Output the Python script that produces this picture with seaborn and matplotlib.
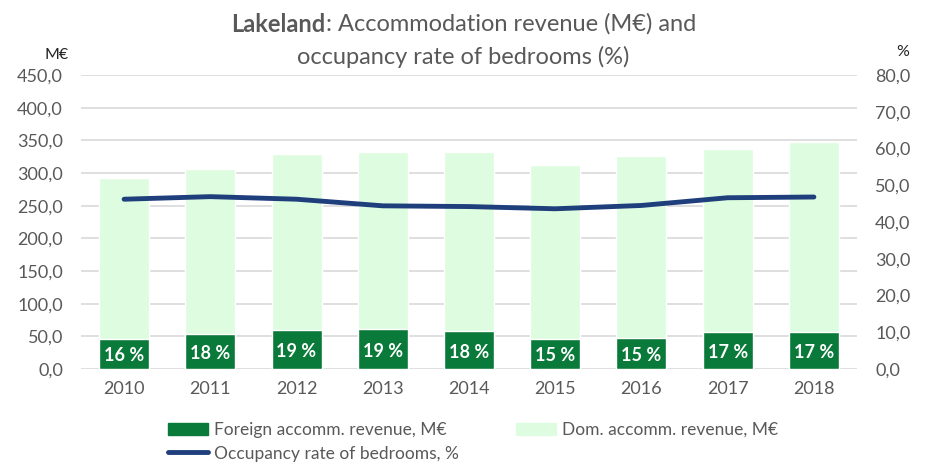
import numpy as np
import pandas as pd
import seaborn as sns
import matplotlib.pyplot as plt
from matplotlib.ticker import FuncFormatter
from matplotlib.patches import Patch
from matplotlib.lines import Line2D

years = ["2010", "2011", "2012", "2013", "2014", "2015", "2016", "2017", "2018"]
foreign_rev = [46, 53, 60, 61, 58, 46, 47, 57, 57]
domestic_rev = [246, 253, 269, 271, 274, 266, 279, 279, 291]
occupancy = [46.2, 46.9, 46.2, 44.4, 44.2, 43.6, 44.5, 46.6, 46.8]
foreign_share = ["16 %", "18 %", "19 %", "19 %", "18 %", "15 %", "15 %", "17 %", "17 %"]

df = pd.DataFrame({"year": years, "foreign": foreign_rev, "domestic": domestic_rev,
                   "occ": occupancy})
df["total"] = df["foreign"] + df["domestic"]
df["pos"] = np.arange(len(df))

sns.set_theme(style="white")
plt.rcParams["font.family"] = ["Lato", "DejaVu Sans"]

DARK = "#0a7a3a"
LIGHT = "#defcdf"
NAVY = "#1f3f7c"
GREY = "#595959"

fig = plt.figure(figsize=(9.27, 4.74), dpi=100)
ax = fig.add_axes([81 / 927, 1 - 369 / 474, (857 - 81) / 927, (369 - 75) / 474])

sns.barplot(data=df, x="year", y="total", color=LIGHT, width=0.58, ax=ax,
            saturation=1, zorder=2)
sns.barplot(data=df, x="year", y="foreign", color=DARK, width=0.58, ax=ax,
            saturation=1, zorder=3)

for i, lab in enumerate(foreign_share):
    ax.text(i, foreign_rev[i] / 2 - 3, lab, ha="center", va="center",
            color="white", fontsize=13, fontweight="bold", zorder=5)

ax.set_ylim(0, 450)
ax.set_yticks(np.arange(0, 451, 50))
ax.set_xlim(-0.5, len(years) - 0.5)
ax.yaxis.set_major_formatter(FuncFormatter(lambda v, p: f"{v:.1f}".replace(".", ",")))
ax.grid(axis="y", color="#d9d9d9", linewidth=1.2, zorder=0)
ax.set_axisbelow(True)
ax.set_xlabel("")
ax.set_ylabel("")
ax.tick_params(axis="y", length=0, pad=13, labelsize=13, labelcolor=GREY)
ax.tick_params(axis="x", length=0, pad=9, labelsize=13, labelcolor=GREY)
for s in ax.spines.values():
    s.set_visible(False)

ax2 = ax.twinx()
sns.lineplot(data=df, x="pos", y="occ", color=NAVY, linewidth=3.5, ax=ax2,
             zorder=4, solid_capstyle="round")
ax2.set_ylim(0, 80)
ax2.set_yticks(np.arange(0, 81, 10))
ax2.yaxis.set_major_formatter(FuncFormatter(lambda v, p: f"{v:.1f}".replace(".", ",")))
ax2.tick_params(axis="y", length=0, pad=13, labelsize=13, labelcolor=GREY)
ax2.set_ylabel("")
ax2.grid(False)
for s in ax2.spines.values():
    s.set_visible(False)

fig.text(57 / 927, 1 - 55 / 474, "M€", fontsize=11.5, color="#222222", ha="center", va="center")
fig.text(903 / 927, 1 - 52 / 474, "%", fontsize=11.5, color="#222222", ha="center", va="center")

# title: bold place name followed by regular text
fig.canvas.draw()
r = fig.canvas.get_renderer()
t1 = fig.text(0, 1 - 24 / 474, "Lakeland", fontsize=17, fontweight="bold", color=GREY,
              va="center", ha="left")
t2 = fig.text(0, 1 - 24 / 474, ": Accommodation revenue (M€) and", fontsize=17,
              color=GREY, va="center", ha="left")
w1 = t1.get_window_extent(r).width
w2 = t2.get_window_extent(r).width
x0 = (927 - w1 - w2) / 2
t1.set_x(x0 / 927)
t2.set_x((x0 + w1) / 927)
fig.text(0.5, 1 - 57 / 474, "occupancy rate of bedrooms (%)", fontsize=17, color=GREY,
         ha="center", va="center")

handles = [Patch(color=DARK), Line2D([], [], color=NAVY, linewidth=3.5), Patch(color=LIGHT)]
labels = ["Foreign accomm. revenue, M€", "Occupancy rate of bedrooms, %",
          "Dom. accomm. revenue, M€"]
leg = fig.legend(handles, labels, ncol=2, loc="upper left",
                 bbox_to_anchor=(168 / 927, 1 - 422 / 474), frameon=False, fontsize=12.5,
                 handlelength=2.3, handleheight=0.75, handletextpad=0.35, columnspacing=3.3,
                 labelspacing=0.44, borderpad=0, borderaxespad=0, labelcolor=GREY)

fig.savefig("out.png", dpi=100)
